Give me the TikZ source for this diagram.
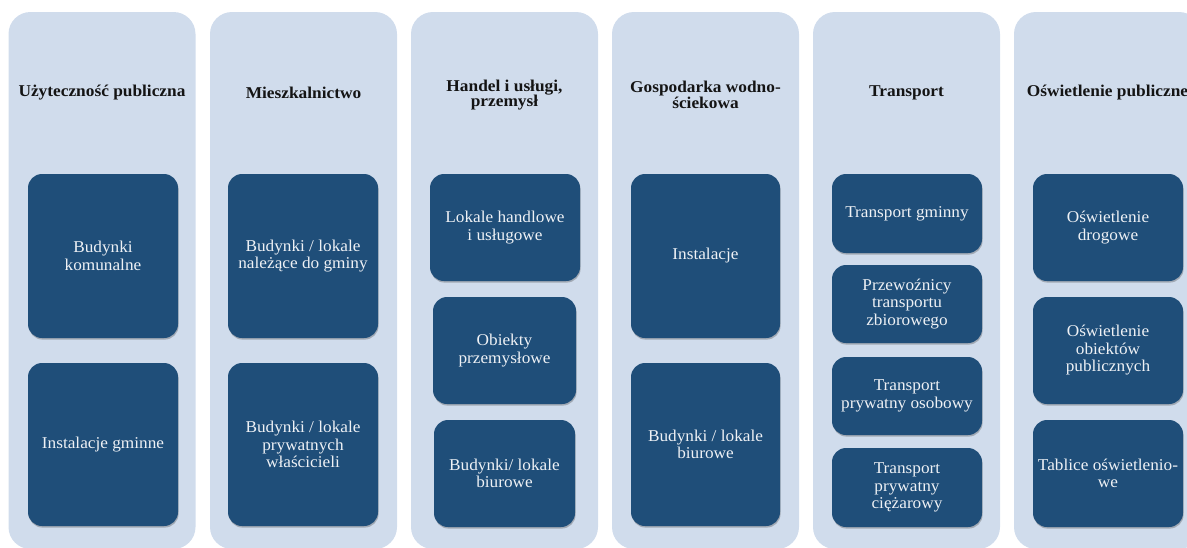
\documentclass[tikz,border=0pt]{standalone}
\usepackage{fontspec}
\setmainfont[FakeStretch=1.045]{Liberation Serif}
\newfontfamily\titlefont[FakeStretch=1.05]{Liberation Serif}
\usetikzlibrary{shadows}
\definecolor{bgblue}{RGB}{208,220,236}
\definecolor{darkblue}{RGB}{31,78,121}
\definecolor{boxtext}{RGB}{238,241,245}
\definecolor{titletext}{RGB}{20,20,20}
\tikzset{
  colbg/.style={fill=bgblue, draw=none, rounded corners=22pt, inner sep=0pt, minimum width=187pt},
  dbox/.style={fill=darkblue, draw=none, rounded corners=14pt, inner sep=2pt, align=center,
    text=boxtext, font=\fontsize{16.5}{17.5}\selectfont,
    drop shadow={shadow xshift=0.6pt, shadow yshift=-1.6pt, opacity=0.35, fill=black!70}},
  coltitle/.style={align=center, text=titletext, font=\titlefont\bfseries\fontsize{16.5}{15.5}\selectfont, inner sep=0pt}
}
\begin{document}
\begin{tikzpicture}[x=1pt,y=-1pt]
\useasboundingbox (0,0) rectangle (1187,547);
\clip (0,0) rectangle (1187,547);
% column backgrounds
\node[colbg, minimum height=537pt] (col1) at (102,280.5) {};
\node[colbg, minimum height=537pt] (col2) at (303.5,280.5) {};
\node[colbg, minimum height=537pt] (col3) at (504.5,280.5) {};
\node[colbg, minimum height=537pt] (col4) at (705.5,280.5) {};
\node[colbg, minimum height=537pt] (col5) at (906.5,280.5) {};
\node[colbg, minimum height=537pt] (col6) at (1107.5,280.5) {};
% titles
\node[coltitle] (t1) at (102,93) {Użyteczność publiczna};
\node[coltitle] (t2) at (303.5,93) {Mieszkalnictwo};
\node[coltitle] (t3) at (504.5,95) {Handel i usługi,\\przemysł};
\node[coltitle] (t4) at (705.5,95) {Gospodarka wodno-\\ściekowa};
\node[coltitle] (t5) at (906.5,93) {Transport};
\node[coltitle] (t6) at (1107.5,93) {Oświetlenie publiczne};
% column 1
\node[dbox, minimum width=150pt, minimum height=164pt] (b11) at (103,256) {Budynki\\komunalne};
\node[dbox, minimum width=150pt, minimum height=163pt] (b12) at (103,444.5) {Instalacje gminne};
% column 2
\node[dbox, minimum width=150pt, minimum height=164pt] (b21) at (303,256) {Budynki / lokale\\należące do gminy};
\node[dbox, minimum width=150pt, minimum height=163pt] (b22) at (303,444.5) {Budynki / lokale\\prywatnych\\właścicieli};
% column 3
\node[dbox, minimum width=150pt, minimum height=107pt] (b31) at (505,227.5) {Lokale handlowe\\i usługowe};
\node[dbox, minimum width=143pt, minimum height=107pt] (b32) at (504.5,350.5) {Obiekty\\przemysłowe};
\node[dbox, minimum width=141pt, minimum height=107pt] (b33) at (504.5,473.5) {Budynki/ lokale\\biurowe};
% column 4
\node[dbox, minimum width=149pt, minimum height=164pt] (b41) at (705.5,256) {Instalacje};
\node[dbox, minimum width=149pt, minimum height=163pt] (b42) at (705.5,444.5) {Budynki / lokale\\biurowe};
% column 5
\node[dbox, minimum width=150pt, minimum height=79pt] (b51) at (907,213.5) {Transport gminny};
\node[dbox, minimum width=150pt, minimum height=78pt] (b52) at (907,304) {Przewoźnicy\\transportu\\zbiorowego};
\node[dbox, minimum width=150pt, minimum height=78pt] (b53) at (907,396) {Transport\\prywatny osobowy};
\node[dbox, minimum width=150pt, minimum height=79pt] (b54) at (907,487.5) {Transport\\prywatny\\ciężarowy};
% column 6
\node[dbox, minimum width=150pt, minimum height=107pt] (b61) at (1108,227.5) {Oświetlenie\\drogowe};
\node[dbox, minimum width=150pt, minimum height=107pt] (b62) at (1108,350.5) {Oświetlenie\\obiektów\\publicznych};
\node[dbox, minimum width=150pt, minimum height=107pt] (b63) at (1108,473.5) {Tablice oświetlenio-\\we};
\end{tikzpicture}
\end{document}
